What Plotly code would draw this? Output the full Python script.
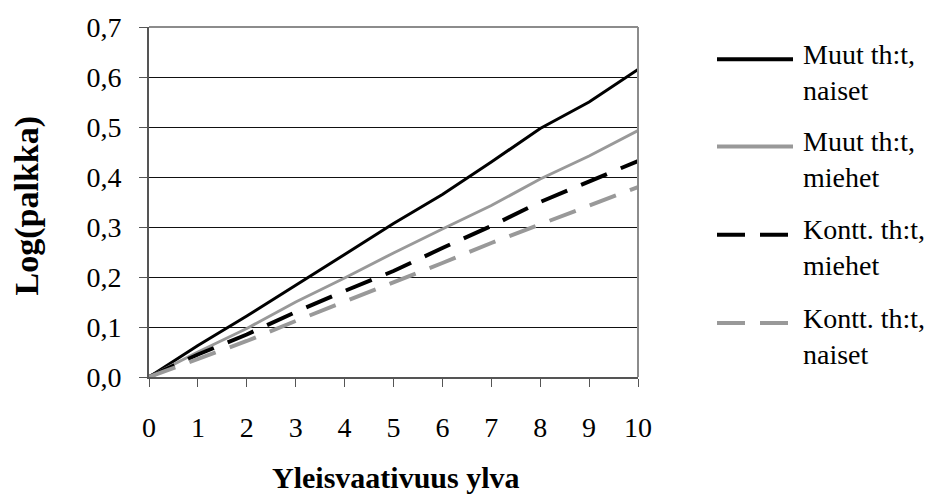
import plotly.graph_objects as go

# Yleisvaativuus (ylva) 0..10 and estimated log-wage effect per group
ylva = [0, 1, 2, 3, 4, 5, 6, 7, 8, 9, 10]
muut_naiset = [0, 0.063, 0.122, 0.183, 0.245, 0.307, 0.365, 0.430, 0.497, 0.550, 0.615]
muut_miehet = [0, 0.050, 0.097, 0.150, 0.198, 0.248, 0.296, 0.343, 0.396, 0.442, 0.493]
kontt_miehet = [0, 0.045, 0.085, 0.130, 0.172, 0.212, 0.258, 0.302, 0.350, 0.390, 0.432]
kontt_naiset = [0, 0.037, 0.072, 0.112, 0.150, 0.190, 0.228, 0.268, 0.305, 0.342, 0.380]

y_ticks = [0.0, 0.1, 0.2, 0.3, 0.4, 0.5, 0.6, 0.7]

series = [
    ("Muut th:t,<br>naiset", muut_naiset, "#000000", "solid", 3),
    ("Muut th:t,<br>miehet", muut_miehet, "#999999", "solid", 3),
    ("Kontt. th:t,<br>miehet", kontt_miehet, "#000000", "28px,15px", 4),
    ("Kontt. th:t,<br>naiset", kontt_naiset, "#999999", "28px,15px", 4),
]

FONT = "Liberation Serif"

fig = go.Figure()
for name, vals, color, dash, width in series:
    fig.add_trace(go.Scatter(
        x=ylva, y=vals, mode="lines", name=name, showlegend=False,
        line=dict(color=color, width=width, dash=dash),
    ))

# Plot area geometry in pixels
L, R, T, B = 149, 290, 20, 123
W, H = 928, 500
pw, ph = W - L - R, H - T - B

def px_x(p):
    return (p - L) / pw

def px_y(p):
    return (H - B - p) / ph

shapes = []
annotations = []

# Top and right frame lines
shapes.append(dict(type="line", xref="paper", yref="paper", x0=0, x1=1, y0=1, y1=1,
                   line=dict(color="#8c8c8c", width=2)))
shapes.append(dict(type="line", xref="paper", yref="paper", x0=1, x1=1, y0=0, y1=1,
                   line=dict(color="#8c8c8c", width=2)))

# Legend drawn at the right
legend_y = [53, 142, 232, 322]
for (name, vals, color, dash, width), ly in zip(series, legend_y):
    shapes.append(dict(type="line", xref="paper", yref="paper",
                       x0=px_x(717), x1=px_x(793), y0=px_y(ly), y1=px_y(ly),
                       line=dict(color=color, width=4, dash=dash)))
    annotations.append(dict(xref="paper", yref="paper", x=px_x(801), y=px_y(ly - 23),
                            xanchor="left", yanchor="top", align="left", showarrow=False,
                            text=name, font=dict(family=FONT, size=28, color="#000")))

# Axis titles
annotations.append(dict(xref="paper", yref="paper", x=px_x(396), y=px_y(480),
                        xanchor="center", yanchor="middle", showarrow=False,
                        text="<b>Yleisvaativuus ylva</b>",
                        font=dict(family=FONT, size=30, color="#000")))
annotations.append(dict(xref="paper", yref="paper", x=px_x(27), y=px_y(202),
                        xanchor="center", yanchor="middle", showarrow=False, textangle=-90,
                        text="<b>Log(palkka)</b>",
                        font=dict(family=FONT, size=34, color="#000")))

fig.update_layout(
    width=W, height=H,
    margin=dict(l=L, r=R, t=T, b=B),
    paper_bgcolor="white", plot_bgcolor="white",
    separators=",.",
    font=dict(family=FONT, size=28, color="#000"),
    shapes=shapes,
    annotations=annotations,
    xaxis=dict(
        range=[0, 10], tickmode="array", tickvals=ylva, ticktext=[str(v) for v in ylva],
        showgrid=False, zeroline=False,
        showline=True, linecolor="#555555", linewidth=2,
        ticks="outside", ticklen=8, tickwidth=1, tickcolor="#555555",
        ticklabelstandoff=16,
        tickfont=dict(family=FONT, size=28, color="#000"),
    ),
    yaxis=dict(
        range=[0, 0.7], tickmode="array", tickvals=y_ticks,
        ticktext=[f"{v:.1f}".replace(".", ",") for v in y_ticks],
        showgrid=True, gridcolor="#111111", gridwidth=1, zeroline=False,
        showline=True, linecolor="#555555", linewidth=2,
        ticks="outside", ticklen=8, tickwidth=1, tickcolor="#555555",
        ticklabelstandoff=12,
        tickfont=dict(family=FONT, size=28, color="#000"),
    ),
)

fig.write_html("out.html")
